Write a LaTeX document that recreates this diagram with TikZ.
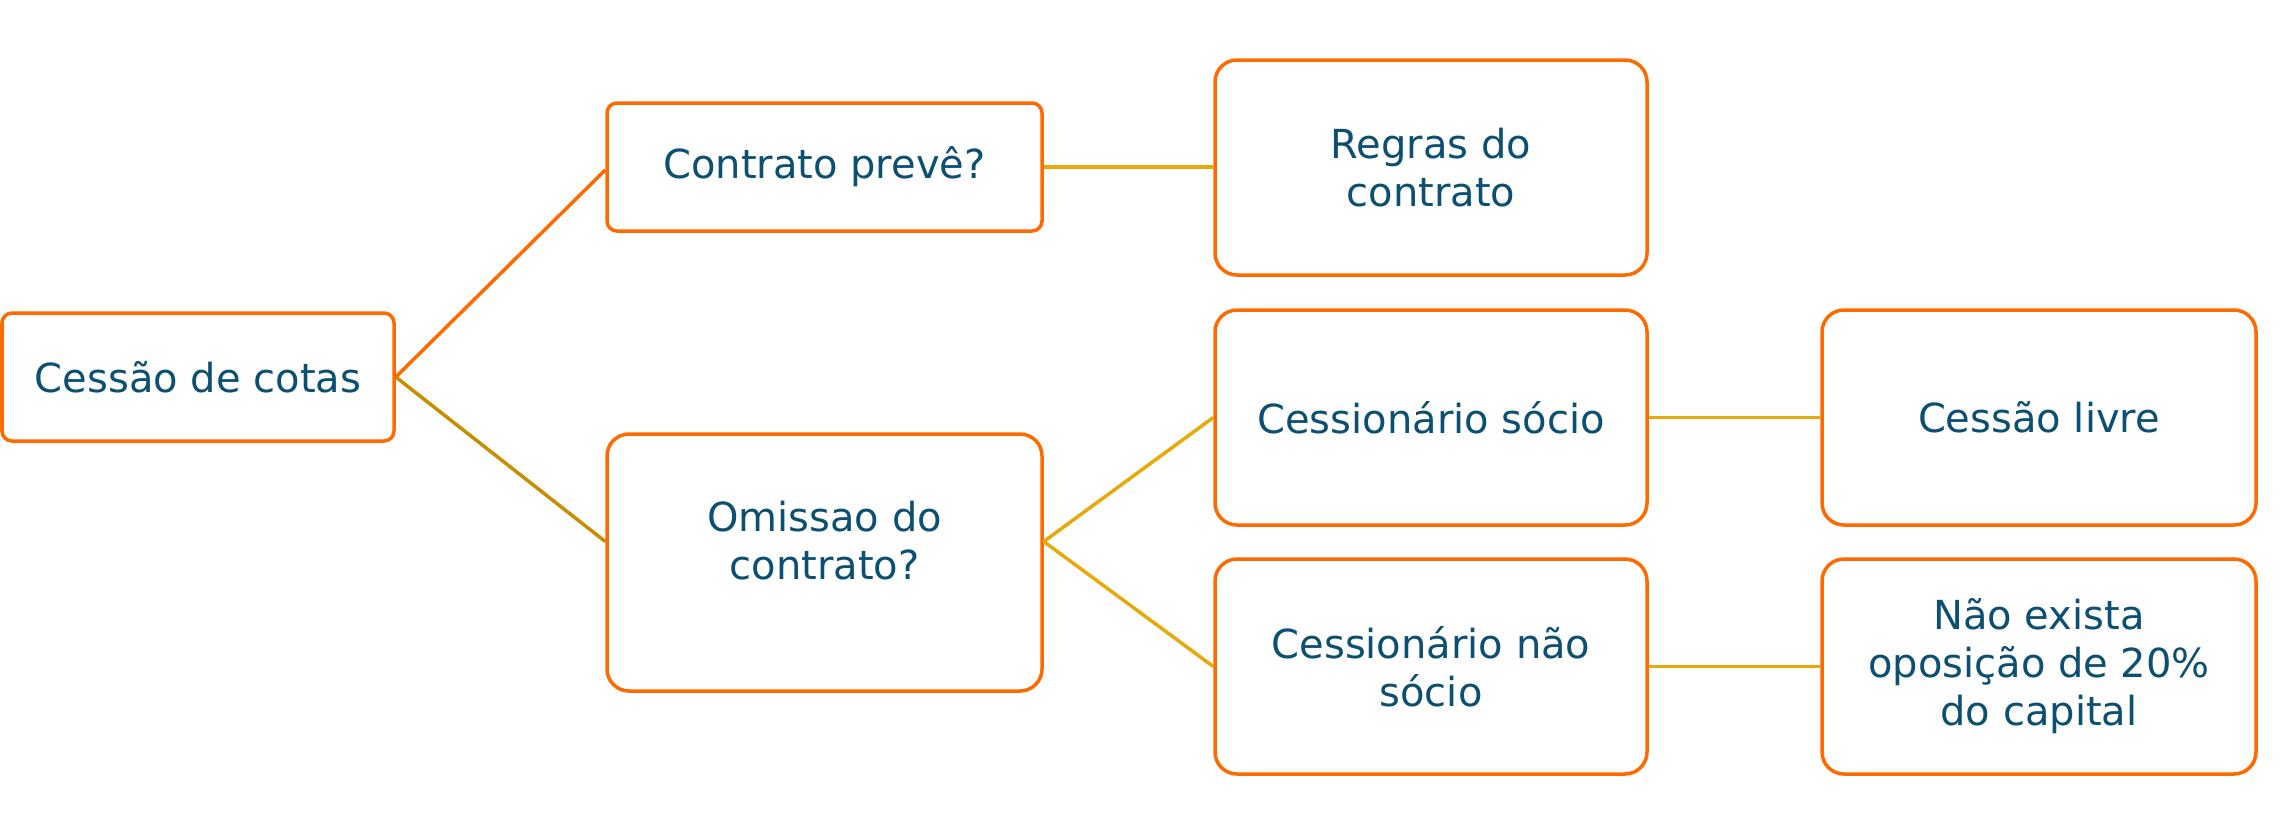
\documentclass[tikz,border=0pt]{standalone}
\usepackage{fontspec}
\setmainfont{DejaVu Sans}
\definecolor{boxorange}{HTML}{FF6A00}
\definecolor{txtblue}{HTML}{0B4F72}
\definecolor{linegold}{HTML}{E8A90C}
\definecolor{linedark}{HTML}{C98E00}
\begin{document}
\begin{tikzpicture}[x=1pt,y=-1pt,
  box/.style={draw=boxorange, line width=3.5pt, fill=white, inner sep=0pt,
    align=center, text=txtblue, font=\fontsize{40}{48}\selectfont},
  smallbox/.style={box, rounded corners=10pt},
  bigbox/.style={box, rounded corners=22pt},
  lbl/.style={inner sep=0pt, align=center, text=txtblue, font=\fontsize{40}{48}\selectfont},
  conn/.style={line width=3.5pt, draw=linegold},
]
\useasboundingbox (0,0) rectangle (2282,836);
\fill[white] (0,0) rectangle (2282,836);

% nodes
\node[smallbox, minimum width=392pt, minimum height=128pt] (root) at (198,377) {Cessão de cotas};
\node[smallbox, minimum width=435pt, minimum height=128pt] (contrato) at (824.5,167) {Contrato prevê?};
\node[bigbox, minimum width=435pt, minimum height=257pt] (omissao) at (824.5,562.5) {};
\node[lbl] (omissaotxt) at (824.5,541) {Omissao do\\contrato?};
\node[bigbox, minimum width=432pt, minimum height=215pt] (regras) at (1431,167.5) {Regras do\\contrato};
\node[bigbox, minimum width=432pt, minimum height=215pt] (csocio) at (1431,417.5) {Cessionário sócio};
\node[bigbox, minimum width=432pt, minimum height=215pt] (cnsocio) at (1431,666.5) {Cessionário não\\sócio};
\node[bigbox, minimum width=434pt, minimum height=215pt] (livre) at (2039,417.5) {Cessão livre};
\node[bigbox, minimum width=434pt, minimum height=215pt] (naoex) at (2039,666.5) {Não exista\\oposição de 20\%\\do capital};

% connectors
\draw[line width=3.5pt, draw=boxorange] (root.east) -- ([yshift=-3pt]contrato.west);
\draw[line width=3.5pt, draw=linedark] (root.east) -- ([yshift=21pt]omissao.west);
\draw[conn] (contrato.east) -- (contrato.east -| regras.west);
\draw[conn] ([yshift=21pt]omissao.east) -- (csocio.west);
\draw[conn] ([yshift=21pt]omissao.east) -- (cnsocio.west);
\draw[conn] (csocio.east) -- (livre.west);
\draw[conn] (cnsocio.east) -- (naoex.west);
\end{tikzpicture}
\end{document}
